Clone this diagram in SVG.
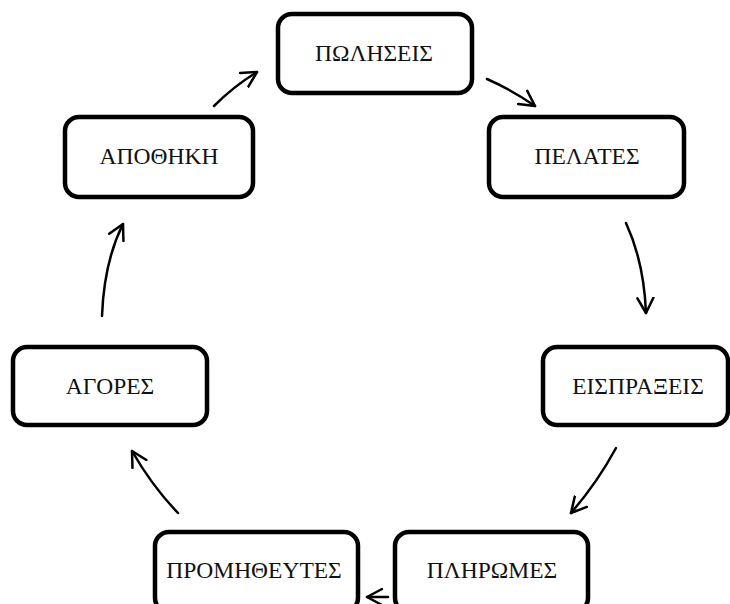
<svg xmlns="http://www.w3.org/2000/svg" width="730" height="604" viewBox="0 0 730 604">
<style>
.box{fill:#fff;stroke:#000;stroke-width:4.5}
.lbl{font-family:"Liberation Serif","Times New Roman",serif;font-size:23.5px;fill:#111;text-anchor:middle}
.con{fill:none;stroke:#000;stroke-width:2.5;stroke-linecap:round}
</style>
<defs>
<marker id="ah" markerUnits="userSpaceOnUse" markerWidth="22" markerHeight="22" refX="16" refY="9" orient="auto" viewBox="0 0 22 18">
<path d="M1,1 L16,9 L1,17" fill="none" stroke="#000" stroke-width="2.5" stroke-linecap="round" stroke-linejoin="round"/>
</marker>
</defs>
<rect width="730" height="604" fill="#fff"/>
<g id="connectors">
<path class="con" d="M487,79 Q512,90 535,106" marker-end="url(#ah)"/>
<path class="con" d="M626,223 Q644,262 646,313" marker-end="url(#ah)"/>
<path class="con" d="M616,448 Q597,483 571,513" marker-end="url(#ah)"/>
<path class="con" d="M388,597 L367,597" marker-end="url(#ah)"/>
<path class="con" d="M178,513 Q152,486 132,451" marker-end="url(#ah)"/>
<path class="con" d="M102,316 Q104,262 123,224" marker-end="url(#ah)"/>
<path class="con" d="M214,106 Q234,86 257,72" marker-end="url(#ah)"/>
</g>
<g id="node-poliseis">
<rect class="box" x="278" y="14" width="194" height="79" rx="14"/>
<text class="lbl" x="374" y="61">ΠΩΛΗΣΕΙΣ</text>
</g>
<g id="node-pelates">
<rect class="box" x="489" y="117" width="195" height="80" rx="14"/>
<text class="lbl" x="587" y="164">ΠΕΛΑΤΕΣ</text>
</g>
<g id="node-eispraxeis">
<rect class="box" x="543" y="347" width="185" height="78" rx="14"/>
<text class="lbl" x="638" y="394">ΕΙΣΠΡΑΞΕΙΣ</text>
</g>
<g id="node-pliromes">
<rect class="box" x="395" y="532" width="193" height="80" rx="14"/>
<text class="lbl" x="492" y="578">ΠΛΗΡΩΜΕΣ</text>
</g>
<g id="node-promitheytes">
<rect class="box" x="155" y="532" width="203" height="80" rx="14"/>
<text class="lbl" x="254" y="578">ΠΡΟΜΗΘΕΥΤΕΣ</text>
</g>
<g id="node-agores">
<rect class="box" x="13" y="347" width="194" height="78" rx="14"/>
<text class="lbl" x="110" y="394">ΑΓΟΡΕΣ</text>
</g>
<g id="node-apothiki">
<rect class="box" x="65" y="117" width="188" height="80" rx="14"/>
<text class="lbl" x="159" y="164">ΑΠΟΘΗΚΗ</text>
</g>
</svg>
